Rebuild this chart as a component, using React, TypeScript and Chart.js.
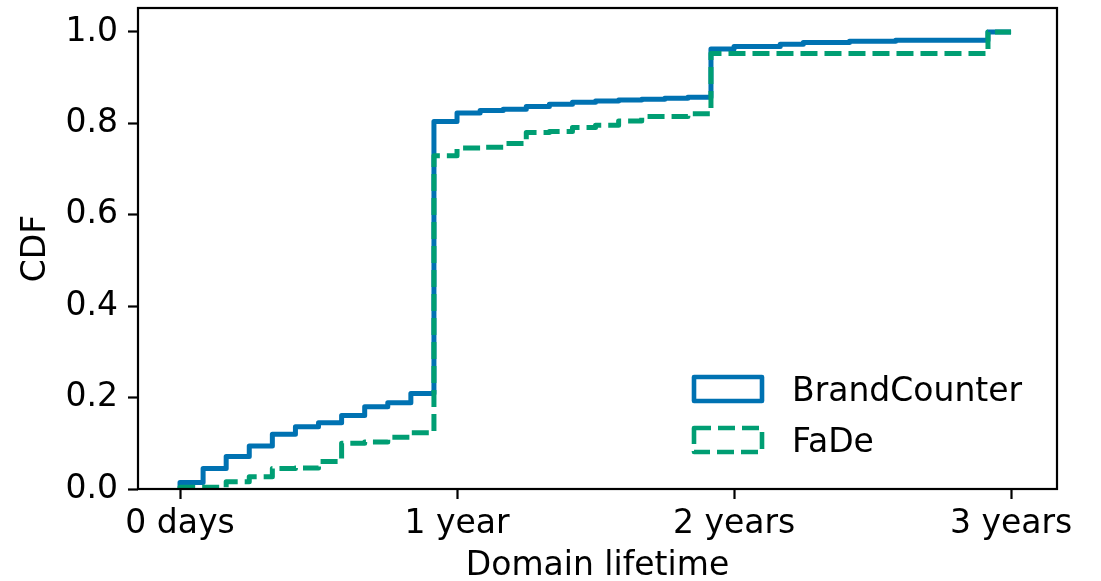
import React, { useEffect, useRef } from "react";
import { Chart, registerables } from "chart.js";

Chart.register(...registerables);

// Months since domain creation (x axis in months)
const months = [
  0, 1, 2, 3, 4, 5, 6, 7, 8, 9, 10, 11, 12, 13, 14, 15, 16, 17, 18, 19, 20,
  21, 22, 23, 24, 25, 26, 27, 28, 29, 30, 31, 32, 33, 34, 35, 36,
];

// CDF values (value holds from month m to month m+1)
const brandCounter = [
  0.014, 0.045, 0.071, 0.094, 0.12, 0.136, 0.145, 0.161, 0.18, 0.189, 0.209,
  0.804, 0.823, 0.828, 0.831, 0.837, 0.842, 0.846, 0.849, 0.851, 0.853, 0.855,
  0.857, 0.963, 0.968, 0.968, 0.973, 0.977, 0.977, 0.98, 0.98, 0.982, 0.982,
  0.982, 0.982, 1.0, 1.0,
];

const fade = [
  0.004, 0.004, 0.016, 0.027, 0.045, 0.046, 0.06, 0.1, 0.103, 0.113, 0.123,
  0.729, 0.746, 0.748, 0.756, 0.78, 0.782, 0.791, 0.796, 0.805, 0.815, 0.815,
  0.821, 0.953, 0.953, 0.953, 0.953, 0.953, 0.953, 0.953, 0.953, 0.953, 0.953,
  0.953, 0.953, 1.0, 1.0,
];

const seriesLabels = ["BrandCounter", "FaDe"];
const xTickValues = [0, 12, 24, 36];
const xTickLabels = ["0 days", "1 year", "2 years", "3 years"];
const yTickValues = [0, 0.2, 0.4, 0.6, 0.8, 1.0];

const FONT = "'DejaVu Sans', sans-serif";
const FS = 33;
const BLUE = "#0072B2";
const GREEN = "#009E73";
const DASH = [17, 7];
const LW = 5;

function toPoints(vals: number[]) {
  return [{ x: months[0], y: 0 }].concat(
    vals.map((v, i) => ({ x: months[i], y: v }))
  );
}

const framePlugin = {
  id: "frameAndLegend",
  afterDatasetsDraw(chart: any) {
    const { ctx, chartArea } = chart;
    const { left, top, right, bottom } = chartArea;
    ctx.save();
    ctx.strokeStyle = "#000";
    ctx.lineWidth = 2.2;
    ctx.setLineDash([]);
    ctx.strokeRect(left, top, right - left, bottom - top);

    // legend (lower right, no frame)
    const ds = chart.data.datasets;
    const rectX = right - 363;
    const rectW = 68;
    const rectH = 24;
    const textX = right - 265;
    const rows = [bottom - 112, bottom - 61];
    ds.forEach((d: any, i: number) => {
      const y = rows[i];
      ctx.lineWidth = 4.6;
      ctx.lineJoin = "round";
      ctx.strokeStyle = d.borderColor;
      ctx.setLineDash(d.borderDash || []);
      ctx.strokeRect(rectX, y, rectW, rectH);
      ctx.setLineDash([]);
      ctx.fillStyle = "#000";
      ctx.font = `${FS}px ${FONT}`;
      ctx.textBaseline = "alphabetic";
      ctx.textAlign = "left";
      ctx.fillText(d.label, textX, y + rectH);
    });
    ctx.restore();
  },
};

export default function App() {
  const canvasRef = useRef<HTMLCanvasElement | null>(null);

  useEffect(() => {
    if (!canvasRef.current) return;
    const chart = new Chart(canvasRef.current, {
      type: "line",
      data: {
        datasets: [
          {
            label: seriesLabels[0],
            data: toPoints(brandCounter),
            borderColor: BLUE,
            backgroundColor: BLUE,
            borderWidth: LW,
            stepped: "before",
            pointRadius: 0,
            fill: false,
            borderJoinStyle: "round",
            order: 1,
          },
          {
            label: seriesLabels[1],
            data: toPoints(fade),
            borderColor: GREEN,
            backgroundColor: GREEN,
            borderWidth: LW,
            borderDash: DASH,
            stepped: "before",
            pointRadius: 0,
            fill: false,
            borderJoinStyle: "round",
            order: 0,
          },
        ],
      },
      options: {
        animation: false,
        responsive: false,
        maintainAspectRatio: false,
        layout: { padding: { top: 8, right: 44, left: 0, bottom: 0 } },
        plugins: {
          legend: { display: false },
          tooltip: { enabled: false },
        },
        scales: {
          x: {
            type: "linear",
            min: -1.82,
            max: 37.99,
            afterBuildTicks: (scale: any) => {
              scale.ticks = xTickValues.map((v) => ({ value: v }));
            },
            afterFit: (scale: any) => {
              scale.height = 92;
              scale.paddingLeft = 0;
              scale.paddingRight = 0;
            },
            ticks: {
              callback: (v: any) => {
                const i = xTickValues.indexOf(Number(v));
                return i >= 0 ? xTickLabels[i] : "";
              },
              font: { family: FONT, size: FS },
              color: "#000",
              padding: 6,
              maxRotation: 0,
              autoSkip: false,
            },
            grid: {
              drawOnChartArea: false,
              drawTicks: true,
              tickLength: 10,
              tickWidth: 2.2,
              tickColor: "#000",
            },
            border: { display: false },
            title: {
              display: true,
              text: "Domain lifetime",
              font: { family: FONT, size: FS, lineHeight: 1.0 },
              color: "#000",
              padding: { top: 0, bottom: -2 },
            },
          },
          y: {
            type: "linear",
            min: 0,
            max: 1.0525,
            afterBuildTicks: (scale: any) => {
              scale.ticks = yTickValues.map((v) => ({ value: v }));
            },
            afterFit: (scale: any) => {
              scale.width = 138;
              scale.paddingTop = 0;
              scale.paddingBottom = 0;
            },
            ticks: {
              callback: (v: any) => Number(v).toFixed(1),
              font: { family: FONT, size: FS },
              color: "#000",
              padding: 10,
            },
            grid: {
              drawOnChartArea: false,
              drawTicks: true,
              tickLength: 10,
              tickWidth: 2.2,
              tickColor: "#000",
            },
            border: { display: false },
            title: {
              display: true,
              text: "CDF",
              font: { family: FONT, size: FS, lineHeight: 1.1 },
              color: "#000",
              padding: { top: 18, bottom: 0 },
            },
          },
        },
      },
      plugins: [framePlugin],
    });
    return () => chart.destroy();
  }, []);

  return (
    <div style={{ position: "absolute", left: 0, top: 0, width: 1101, height: 581, background: "#fff" }}>
      <canvas ref={canvasRef} width={1101} height={581} style={{ display: "block" }} />
    </div>
  );
}
